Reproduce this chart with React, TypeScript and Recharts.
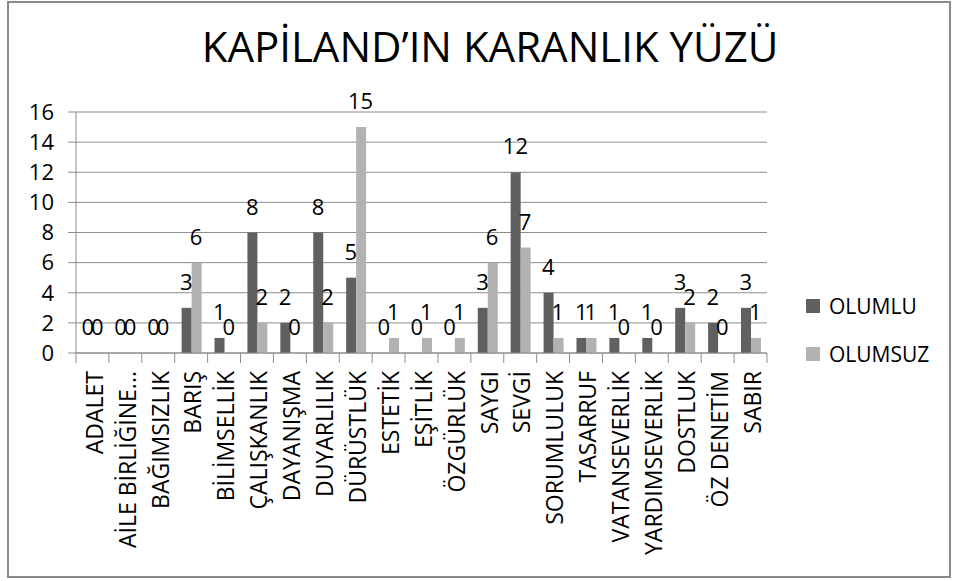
import { ComposedChart, Bar, Line, XAxis, YAxis, CartesianGrid, Legend, LabelList } from "recharts";

const categories = [
  "ADALET",
  "AİLE BİRLİĞİNE...",
  "BAĞIMSIZLIK",
  "BARIŞ",
  "BİLİMSELLİK",
  "ÇALIŞKANLIK",
  "DAYANIŞMA",
  "DUYARLILIK",
  "DÜRÜSTLÜK",
  "ESTETİK",
  "EŞİTLİK",
  "ÖZGÜRLÜK",
  "SAYGI",
  "SEVGİ",
  "SORUMLULUK",
  "TASARRUF",
  "VATANSEVERLİK",
  "YARDIMSEVERLİK",
  "DOSTLUK",
  "ÖZ DENETİM",
  "SABIR",
];
const olumlu = [0, 0, 0, 3, 1, 8, 2, 8, 5, 0, 0, 0, 3, 12, 4, 1, 1, 1, 3, 2, 3];
const olumsuz = [0, 0, 0, 6, 0, 2, 0, 2, 15, 1, 1, 1, 6, 7, 1, 1, 0, 0, 2, 0, 1];
const yTicks = [0, 2, 4, 6, 8, 10, 12, 14, 16];

const data = categories.map((name, i) => ({ name, olumlu: olumlu[i], olumsuz: olumsuz[i] }));

const FONT = "'Open Sans', sans-serif";
const GRAY = "#8c8c8c";
const DARK = "#606060";
const LIGHT = "#b2b2b2";

const W = 958;
const H = 581;
const LEFT = 76;
const RIGHT = 191;
const TOP = 112;
const AXIS_Y = 353;
const band = (W - LEFT - RIGHT) / categories.length;
const GAP = 0.21;
const barW = (band * (1 - 2 * GAP)) / 2;

const XTick = (props: any) => {
  const { x, index } = props;
  const last = index === categories.length - 1;
  return (
    <g>
      <line x1={x - band / 2} x2={x - band / 2} y1={AXIS_Y} y2={AXIS_Y + 10} stroke={GRAY} />
      {last && <line x1={x + band / 2} x2={x + band / 2} y1={AXIS_Y} y2={AXIS_Y + 10} stroke={GRAY} />}
      <text
        transform={`translate(${x + 2}, ${AXIS_Y + 18}) rotate(-90)`}
        textAnchor="end"
        dy="0.36em"
        fontSize={23}
        fontFamily={FONT}
        fill="#000"
      >
        {props.payload.value}
      </text>
    </g>
  );
};

// value labels hang off invisible lines so the zero values get one too
const makeLabel = (shift: number) => (props: any) => {
  const { x, y, value } = props;
  return (
    <text x={x + shift} y={y - 18} textAnchor="middle" fontSize={22} fontFamily={FONT} fill="#000">
      {value}
    </text>
  );
};
const darkLabel = makeLabel(-barW / 2);
const lightLabel = makeLabel(barW / 2);

const legendItems = [
  { label: "OLUMLU", color: DARK },
  { label: "OLUMSUZ", color: LIGHT },
];

export default function App() {
  return (
    <div style={{ position: "absolute", left: 0, top: 0, width: W, height: H, background: "#fff" }}>
      <div
        style={{
          position: "absolute",
          left: 7,
          top: 1,
          width: 944,
          height: 577,
          border: "2px solid #8a8a8a",
          boxSizing: "border-box",
        }}
      />
      <div
        style={{
          position: "absolute",
          left: 0,
          width: 980,
          top: 17,
          textAlign: "center",
          fontFamily: FONT,
          fontSize: 42,
          lineHeight: "58px",
          color: "#000",
        }}
      >
        KAPİLAND’IN KARANLIK YÜZÜ
      </div>
      <ComposedChart
        width={W}
        height={H}
        data={data}
        margin={{ top: TOP, right: RIGHT, left: 0, bottom: 0 }}
        barCategoryGap={`${GAP * 100}%`}
        barGap={0}
      >
        <CartesianGrid vertical={false} stroke={GRAY} />
        <YAxis
          width={LEFT}
          domain={[0, 16]}
          ticks={yTicks}
          interval={0}
          tickSize={8}
          tickMargin={14}
          axisLine={{ stroke: GRAY }}
          tickLine={{ stroke: GRAY }}
          tick={{ fontSize: 22, fill: "#000", fontFamily: FONT }}
        />
        <XAxis
          dataKey="name"
          interval={0}
          height={H - AXIS_Y}
          tickLine={false}
          axisLine={{ stroke: GRAY }}
          tick={<XTick />}
        />
        <Legend
          layout="vertical"
          align="center"
          verticalAlign="middle"
          wrapperStyle={{ left: 806, top: 282, width: 150 }}
          content={() => (
            <div style={{ fontFamily: FONT }}>
              {legendItems.map((it) => (
                <div key={it.label} style={{ display: "flex", alignItems: "center", height: 48 }}>
                  <div style={{ width: 14, height: 14, background: it.color, marginRight: 9 }} />
                  <span style={{ fontSize: 21, color: "#000" }}>{it.label}</span>
                </div>
              ))}
            </div>
          )}
        />
        <Bar dataKey="olumlu" name="OLUMLU" fill={DARK} isAnimationActive={false} />
        <Bar dataKey="olumsuz" name="OLUMSUZ" fill={LIGHT} isAnimationActive={false} />
        <Line
          dataKey="olumlu"
          stroke="none"
          dot={false}
          activeDot={false}
          legendType="none"
          isAnimationActive={false}
        >
          <LabelList dataKey="olumlu" content={darkLabel} />
        </Line>
        <Line
          dataKey="olumsuz"
          stroke="none"
          dot={false}
          activeDot={false}
          legendType="none"
          isAnimationActive={false}
        >
          <LabelList dataKey="olumsuz" content={lightLabel} />
        </Line>
      </ComposedChart>
    </div>
  );
}
